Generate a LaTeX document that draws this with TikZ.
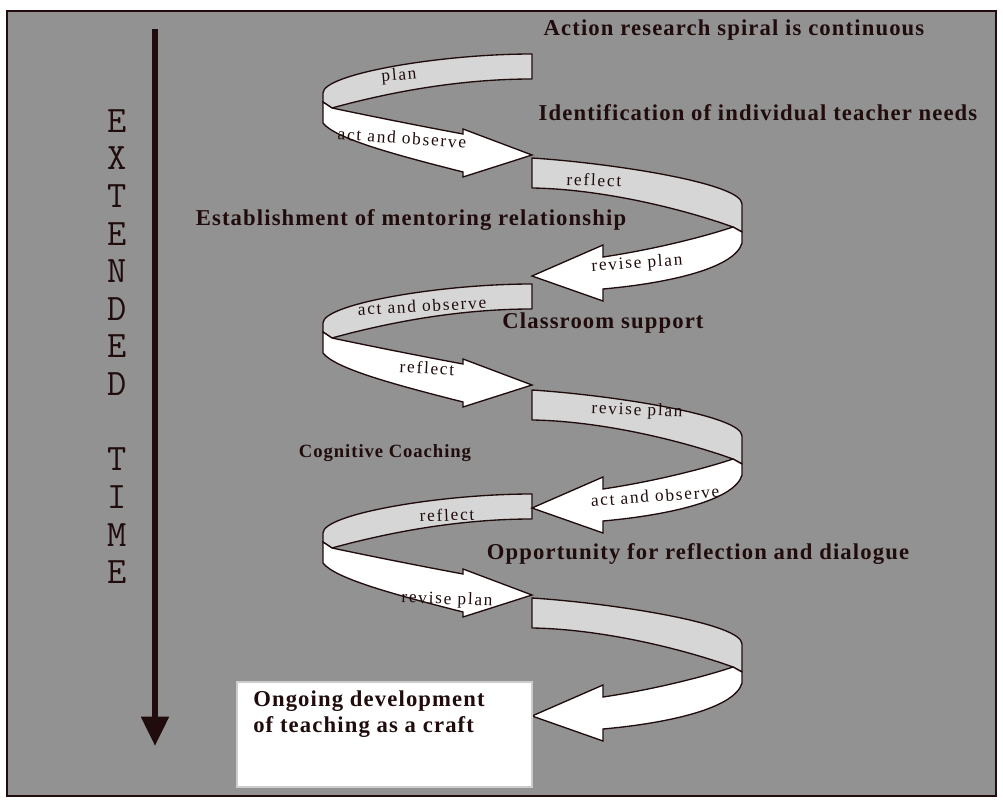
\documentclass[tikz,border=0pt]{standalone}
\usepackage{fontspec}
\setmainfont{Liberation Serif}
\newfontfamily\lblfont{Liberation Serif}[LetterSpace=5]
\newfontfamily\ribfont{Liberation Serif}[LetterSpace=10]
\usetikzlibrary{arrows.meta}
\definecolor{bgray}{RGB}{146,146,146}
\definecolor{band}{RGB}{214,214,214}
\definecolor{ink}{RGB}{32,12,12}
\tikzset{
  greyband/.style={fill=band, draw=ink, line width=1pt, line join=round},
  whiteband/.style={fill=white, draw=ink, line width=1pt},
  lbl/.style={font=\lblfont\bfseries\fontsize{17}{20}\selectfont, text=ink, inner sep=0pt},
  rib/.style={font=\ribfont\fontsize{13}{15}\selectfont, text=ink, inner sep=0pt},
  tletter/.style={font=\ttfamily\fontsize{28}{30}\selectfont, text=ink, inner sep=0pt},
  timearr/.style={draw=ink, line width=4.5pt, -{Triangle[length=22pt, width=20pt]}},
}

\begin{document}
\begin{tikzpicture}[x=0.75pt, y=-0.75pt]
\useasboundingbox (0,0) rectangle (1003,802);
\fill[white] (0,0) rectangle (1003,802);
\draw[draw=ink, line width=1.5pt, fill=bgray] (7,11) rectangle (996,796);

% extended time
\coordinate (ttop) at (155,29);
\coordinate (tbot) at (155,746);
\draw[timearr] (ttop) -- (tbot);
\foreach \ch/\yy in {E/121,X/158,T/196,E/234,N/271,D/309,E/346,D/384,T/459,I/497,M/535,E/572}
  \node[tletter] (t\yy) at (117,\yy) {\ch};

% spiral: loops turning left
\foreach \yy in {54,284,494} {
  \begin{scope}[shift={(0,\yy)}]
    \filldraw[greyband] (532,0) .. controls (440,0) and (323,20) .. (323,39) -- (323,48) -- (332,54)
      .. controls (390,38) and (460,25) .. (532,25) -- cycle;
    \filldraw[whiteband] (323,48) -- (323,69) .. controls (335,85) and (400,102) .. (463,118)
      -- (463,123) -- (532,101) -- (463,75) -- (463,80) .. controls (420,72) and (370,62) .. (332,54) -- cycle;
  \end{scope}
}
% spiral: loops turning right
\foreach \yy in {158,390,598} {
  \begin{scope}[shift={(0,\yy)}]
    \filldraw[greyband] (532,0) .. controls (610,5) and (742,25) .. (742,46) -- (742,74) -- (733,69)
      .. controls (680,50) and (600,31) .. (532,30) -- cycle;
    \filldraw[whiteband] (742,74) -- (742,85) .. controls (735,110) and (670,125) .. (603,131)
      -- (603,143) -- (532,118) -- (603,87) -- (603,99) .. controls (650,92) and (700,80) .. (733,69) -- cycle;
  \end{scope}
}

% ribbon labels
\node[rib, rotate=5] (p1) at (399,76) {plan};
\node[rib, rotate=-4] (a1) at (402,138) {act and observe};
\node[rib, rotate=-2] (r1) at (594,180) {reflect};
\node[rib, rotate=4] (v1) at (637,264) {revise plan};
\node[rib, rotate=3] (a2) at (422,306) {act and observe};
\node[rib, rotate=-3] (r2) at (427,368) {reflect};
\node[rib, rotate=-2] (v2) at (637,411) {revise plan};
\node[rib, rotate=4] (a3) at (655,496) {act and observe};
\node[rib, rotate=2] (r3) at (447,515) {reflect};
\node[rib, rotate=-2] (v3) at (447,600) {revise plan};

% stage labels
\node[lbl] (cont) at (734,30) {Action research spiral is continuous};
\node[lbl] (needs) at (758,113) {Identification of individual teacher needs};
\node[lbl] (mentor) at (411,220) {Establishment of mentoring relationship};
\node[lbl] (class) at (603,323) {Classroom support};
\node[lbl, font=\lblfont\bfseries\fontsize{14}{16}\selectfont] (coach) at (385,453) {Cognitive Coaching};
\node[lbl] (dialog) at (698,554) {Opportunity for reflection and dialogue};

% outcome box
\draw[draw=white!80!black, fill=white, line width=0.8pt] (237,682) rectangle (532,787);
\node[lbl, font=\lblfont\bfseries\fontsize{17}{19.5}\selectfont, align=left, anchor=north west] (craft) at (253,691)
  {Ongoing development\\of teaching as a craft};
\end{tikzpicture}
\end{document}
